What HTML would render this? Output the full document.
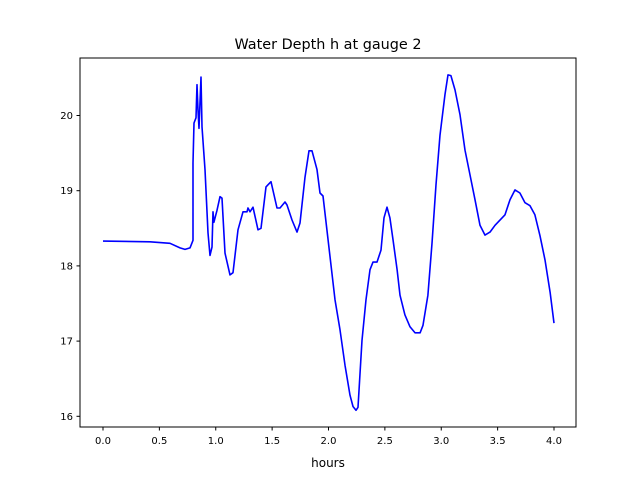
<!DOCTYPE html>
<html><head><meta charset="utf-8"><style>
body{margin:0;background:#fff}
svg text{font-family:"DejaVu Sans","Liberation Sans",sans-serif;fill:#000}
</style></head><body>
<svg id="chart" width="640" height="480" viewBox="0 0 640 480" xmlns="http://www.w3.org/2000/svg">
<rect width="640" height="480" fill="#fff"/>
<text x="328" y="49" font-size="14.4" text-anchor="middle">Water Depth h at gauge 2</text>
<g id="plot"></g>
<rect x="80" y="58" width="496" height="369" fill="none" stroke="#000" stroke-width="1"/>
<text x="328" y="467" font-size="12" text-anchor="middle">hours</text>
</svg>
<script>
const hours=[0,0.417,0.594,0.683,0.727,0.772,0.798,0.798,0.807,0.825,0.834,0.843,0.851,0.869,0.878,0.905,0.931,0.949,0.967,0.976,0.984,1.011,1.038,1.055,1.082,1.126,1.153,1.197,1.242,1.277,1.286,1.304,1.330,1.375,1.401,1.446,1.464,1.490,1.543,1.570,1.614,1.632,1.676,1.721,1.747,1.792,1.827,1.854,1.898,1.925,1.951,2.058,2.102,2.146,2.191,2.217,2.244,2.262,2.297,2.333,2.368,2.395,2.430,2.466,2.492,2.519,2.545,2.572,2.608,2.634,2.678,2.723,2.767,2.812,2.838,2.882,2.918,2.953,2.989,3.033,3.060,3.086,3.122,3.166,3.211,3.255,3.299,3.344,3.388,3.432,3.477,3.565,3.610,3.654,3.698,3.743,3.787,3.831,3.876,3.920,3.965,4.0];
const depth=[18.33,18.32,18.30,18.24,18.22,18.24,18.34,19.37,19.90,19.97,20.41,20.07,19.83,20.51,19.85,19.28,18.44,18.14,18.25,18.72,18.58,18.74,18.92,18.90,18.17,17.88,17.91,18.48,18.72,18.72,18.77,18.72,18.78,18.48,18.50,19.05,19.08,19.12,18.77,18.77,18.85,18.81,18.61,18.45,18.57,19.18,19.53,19.53,19.28,18.97,18.93,17.55,17.15,16.68,16.28,16.13,16.08,16.12,17.01,17.55,17.95,18.05,18.05,18.21,18.64,18.78,18.64,18.35,17.95,17.61,17.35,17.19,17.11,17.11,17.21,17.61,18.30,19.08,19.74,20.28,20.54,20.53,20.34,20.01,19.54,19.21,18.88,18.54,18.41,18.45,18.54,18.68,18.88,19.01,18.97,18.84,18.80,18.68,18.40,18.08,17.65,17.24];
const xTicks=[0,0.5,1,1.5,2,2.5,3,3.5,4];
const xTickLabels=["0.0","0.5","1.0","1.5","2.0","2.5","3.0","3.5","4.0"];
const yTicks=[16,17,18,19,20];
const yTickLabels=["16","17","18","19","20"];
const X=h=>103+h*112.75;
const Y=v=>115.5+(20-v)*75.2;
const NS="http://www.w3.org/2000/svg";
const g=document.getElementById('plot');
function mk(t,a){const e=document.createElementNS(NS,t);for(const k in a)e.setAttribute(k,a[k]);g.appendChild(e);return e;}
xTicks.forEach((t,i)=>{
  const l=mk('line',{x1:X(t),x2:X(t),y1:427,y2:430.5,stroke:'#000'});
  
  
  const tx=mk('text',{x:X(t),y:444,'font-size':10,'text-anchor':'middle'});
  tx.textContent=xTickLabels[i];
  
  
});
yTicks.forEach((t,i)=>{
  const l=mk('line',{x1:76.5,x2:80,y1:Y(t),y2:Y(t),stroke:'#000'});
  
  
  const tx=mk('text',{x:73,y:Y(t)+3.5,'font-size':10,'text-anchor':'end'});
  tx.textContent=yTickLabels[i];
  
  
});
const p=mk('path',{d:hours.map((h,i)=>(i?'L':'M')+X(h).toFixed(1)+','+Y(depth[i]).toFixed(1)).join(''),fill:'none',stroke:'#0000ff','stroke-width':1.6,'stroke-linejoin':'round'});


</script>
</body></html>
